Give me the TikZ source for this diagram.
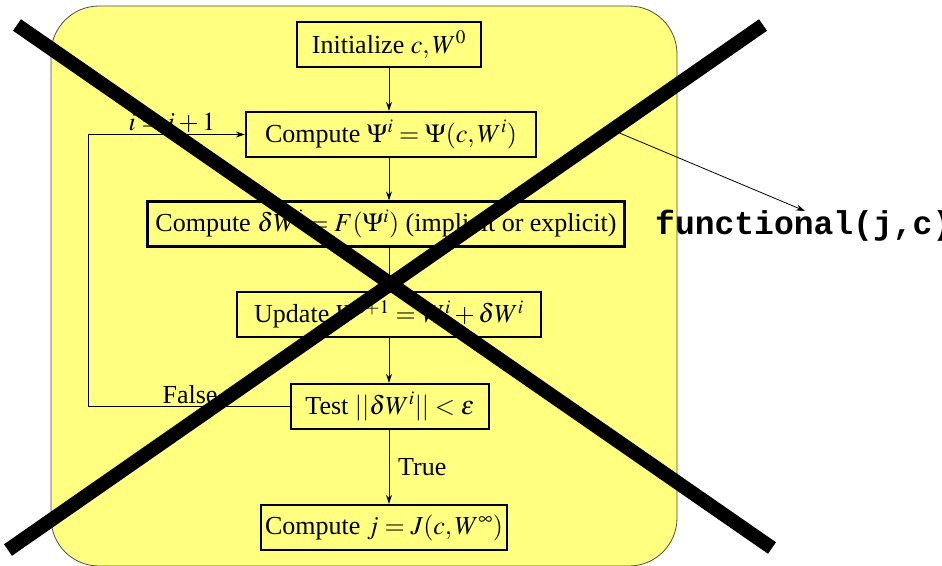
\documentclass[tikz,border=0pt]{standalone}
\usepackage{mathptmx}
\usepackage{fontspec}
\setmainfont{Liberation Serif}
\newfontfamily\codefont{Liberation Mono}
\usetikzlibrary{arrows.meta}
\definecolor{bgyellow}{RGB}{255,255,128}
\begin{document}
\begin{tikzpicture}[x=1pt,y=-1pt,
  box/.style={draw, line width=2.2pt, fill=bgyellow, minimum height=45pt, inner xsep=4pt, font=\fontsize{26}{31}\selectfont},
  conn/.style={line width=0.8pt, -{Stealth[length=9pt,width=6pt]}},
  lbl/.style={font=\fontsize{26}{31}\selectfont, inner sep=0pt},
  xbar/.style={line width=14pt}]
\useasboundingbox (0,0) rectangle (942,565);
\draw[fill=bgyellow, draw=black!70, line width=0.8pt, rounded corners=48pt] (51,6) rectangle (677,566);
\node[box, minimum width=184pt] (init) at (389,44.5) {Initialize $c,W^0$};
\node[box, minimum width=290pt] (psi) at (391,134.5) {Compute $\Psi^i=\Psi(c,W^i)$};
\node[box, minimum width=477pt] (dw) at (386,224) {Compute $\delta W^i=F(\Psi^i)$ (implicit or explicit)};
\node[box, minimum width=304pt] (upd) at (389,314.5) {Update $W^{i+1}=W^i+\delta W^i$};
\node[box, minimum width=198pt] (test) at (390,406.5) {Test $||\delta W^i||<\varepsilon$};
\node[box, minimum width=246pt] (fin) at (384,527.5) {Compute $j=J(c,W^\infty)$};
\draw[conn] (init.south) -- (init.south |- psi.north);
\draw[conn] (init.south |- psi.south) -- (init.south |- dw.north);
\draw[conn] (init.south |- dw.south) -- (init.south |- upd.north);
\draw[conn] (init.south |- upd.south) -- (init.south |- test.north);
\draw[conn] (init.south |- test.south) -- (init.south |- fin.north);
\coordinate (lc) at (88,134.5);
\draw[conn] (test.west) -| (lc) -- (psi.west);
\node[lbl, anchor=base] (inc) at (172,130) {$i=i+1$};
\node[lbl, anchor=base] (fl) at (190,403) {False};
\node[lbl, anchor=base west] (tr) at (398,475) {True};
\node[anchor=base west, inner sep=0pt, font=\codefont\bfseries\fontsize{33}{36}\selectfont] (func) at (655,234) {functional(j,c)};
\coordinate (fs) at (610,129);
\coordinate (fe) at (805,211);
\draw[conn] (fs) -- (fe);
\draw[xbar] (17,25) -- (772,548);
\draw[xbar] (763,25) -- (8,550);
\end{tikzpicture}
\end{document}
